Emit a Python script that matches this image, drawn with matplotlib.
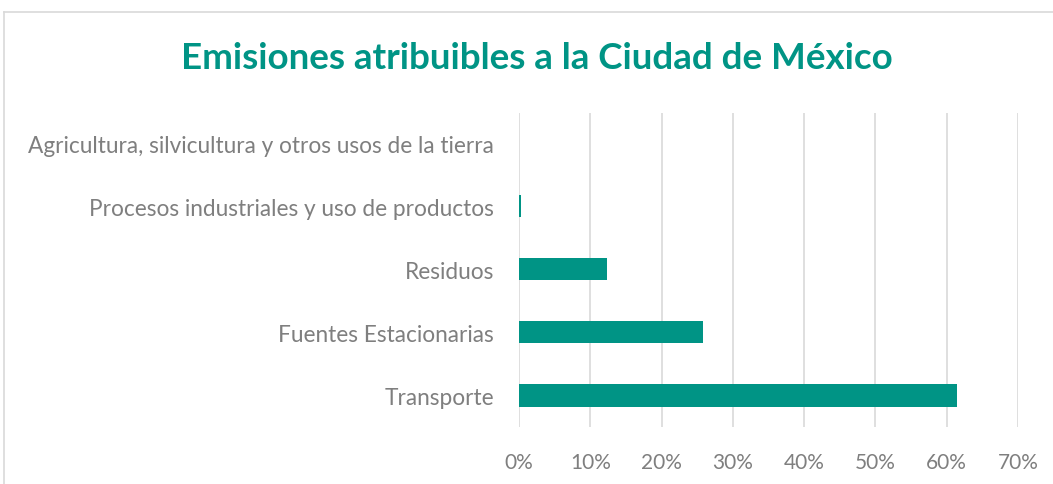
import matplotlib.pyplot as plt
from matplotlib.ticker import PercentFormatter
import numpy as np

# valores (porcentaje del total)
sectores = [
    "Transporte",
    "Fuentes Estacionarias",
    "Residuos",
    "Procesos industriales y uso de productos",
    "Agricultura, silvicultura y otros usos de la tierra",
]
emisiones = [61.4, 25.8, 12.3, 0.3, 0.05]
ticks_x = [0, 10, 20, 30, 40, 50, 60, 70]

TEAL = "#009485"
GRIS = "#7f7f7f"

plt.rcParams["font.family"] = ["Lato", "DejaVu Sans"]

fig = plt.figure(figsize=(10.53, 4.85), dpi=100)
ax = fig.add_axes([0.4929, 0.1175, 0.4739, 0.6474])

pos = np.arange(len(sectores))
ax.barh(pos, emisiones, height=0.35, color=TEAL, zorder=3)

ax.set_xlim(0, 70)
ax.set_ylim(-0.5, 4.48)
ax.set_xticks(ticks_x)
ax.xaxis.set_major_formatter(PercentFormatter(decimals=0))
ax.set_yticks(pos, sectores)

ax.grid(True, axis="x", color="#d9d9d9", linewidth=1.2, zorder=0)
ax.tick_params(axis="both", length=0, colors=GRIS)
ax.tick_params(axis="x", pad=18, labelsize=15)
ax.tick_params(axis="y", pad=18, labelsize=16.3)
for lado in ("top", "right", "bottom", "left"):
    ax.spines[lado].set_visible(False)

fig.text(0.51, 0.88, "Emisiones atribuibles a la Ciudad de México",
         ha="center", va="center", fontsize=26.5, fontweight="bold", color=TEAL)

# marco de la grafica
fig.add_artist(plt.Line2D([0.004, 1.0], [0.973, 0.973], color="#d9d9d9", linewidth=1.2))
fig.add_artist(plt.Line2D([0.004, 0.004], [0.0, 0.973], color="#d9d9d9", linewidth=1.2))

fig.savefig("out.png", dpi=100)
